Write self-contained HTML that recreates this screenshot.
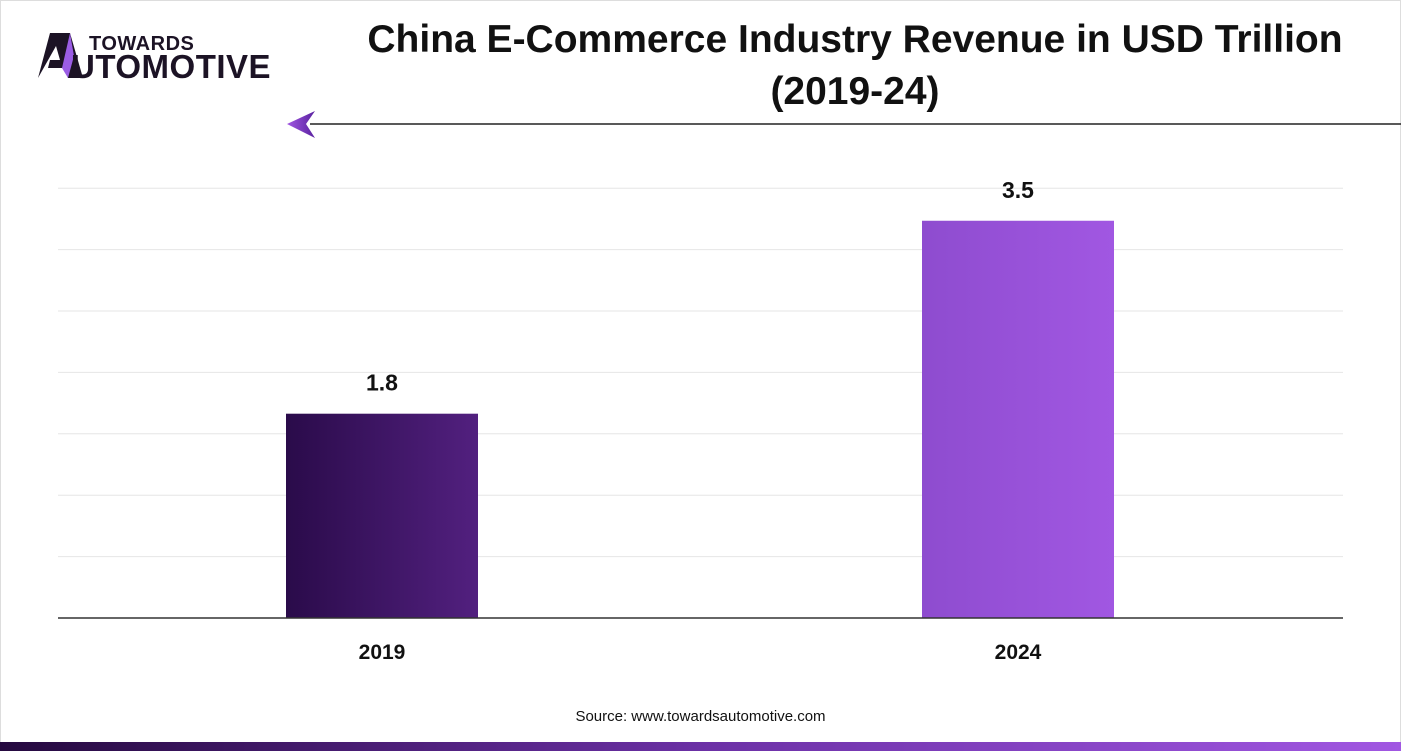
<!DOCTYPE html>
<html><head><meta charset="utf-8"><style>
body{margin:0;width:1401px;height:751px;overflow:hidden;background:#fff;font-family:"Liberation Sans",sans-serif;position:relative}
.abs{position:absolute}
</style></head><body>
<div class="abs" style="left:0;top:0;width:1399px;height:749px;border:1px solid #ddd"></div>
<div class="abs" style="left:38px;top:32px;width:250px;height:50px">
<svg width="50" height="48" style="position:absolute;left:0;top:0">
<polygon points="12,1 32,1 45,46 30,46 26,36 10,36 12,28 22,28 18,14 0,46 0,46" fill="#1c1325"/>
<polygon points="32,1 24,36 30,46 36,24" fill="#9b5de5"/>
</svg>
<div class="abs" style="left:51px;top:1px;font-weight:bold;font-size:20px;color:#1c1325;letter-spacing:0.5px">TOWARDS</div>
<div class="abs" style="left:33px;top:16px;font-weight:bold;font-size:33px;color:#1c1325;letter-spacing:0.5px">UTOMOTIVE</div>
</div>
<div class="abs" style="left:330px;top:14px;width:1050px;text-align:center;font-weight:bold;font-size:39px;line-height:52px;color:#111">China E-Commerce Industry Revenue in USD Trillion<br>(2019-24)</div>
<svg class="abs" style="left:0;top:0" width="1401" height="751" id="chart">
<defs>
<linearGradient id="g1" x1="0" x2="1"><stop offset="0" stop-color="#2a0b4a"/><stop offset="1" stop-color="#52207f"/></linearGradient>
<linearGradient id="g2" x1="0" x2="1"><stop offset="0" stop-color="#8e4ccf"/><stop offset="1" stop-color="#a157e2"/></linearGradient>
<linearGradient id="gb" x1="0" x2="1"><stop offset="0" stop-color="#25093f"/><stop offset="0.5" stop-color="#6b30a5"/><stop offset="1" stop-color="#a157e2"/></linearGradient>
<linearGradient id="ga" x1="0" x2="1"><stop offset="0" stop-color="#a157e2"/><stop offset="1" stop-color="#5a22a0"/></linearGradient>
</defs>
<line x1="310" y1="124" x2="1401" y2="124" stroke="#222" stroke-width="1.5"/>
<polygon points="287,124 315,111 306,124 315,138" fill="url(#ga)"/>
<g id="grid"></g><g id="bars"></g>
<line x1="58" y1="618" x2="1343" y2="618" stroke="#333" stroke-width="1.5"/>
<rect x="0" y="742" width="1401" height="9" fill="url(#gb)"/>
</svg>
<div class="abs" style="left:0;width:1401px;top:708px;text-align:center;font-size:15px;color:#111">Source: www.towardsautomotive.com</div>
<script>
const categories=["2019","2024"];
const values=[1.8,3.5];
const labels=["1.8","3.5"];
const ns="http://www.w3.org/2000/svg";
const base=618, perUnit=113.5, left=58, right=1343, barW=192;
const y=v=>base-v*perUnit;
const x=i=>382+i*636/(categories.length-1);
const grid=document.getElementById('grid'), bars=document.getElementById('bars');
for(let k=1;k<=7;k++){const l=document.createElementNS(ns,'line');const gy=base-k*61.4;
l.setAttribute('x1',left);l.setAttribute('x2',right);l.setAttribute('y1',gy);l.setAttribute('y2',gy);l.setAttribute('stroke','#e6e6e6');


grid.appendChild(l);}
categories.forEach((c,i)=>{
const r=document.createElementNS(ns,'rect');
r.setAttribute('x',x(i)-barW/2);r.setAttribute('y',y(values[i]));r.setAttribute('width',barW);r.setAttribute('height',base-y(values[i]));r.setAttribute('fill',i?'url(#g2)':'url(#g1)');


bars.appendChild(r);
const t=document.createElementNS(ns,'text');
t.setAttribute('x',x(i));t.setAttribute('y',y(values[i])-23);t.setAttribute('text-anchor','middle');t.setAttribute('font-size','23');t.setAttribute('font-weight','bold');t.setAttribute('fill','#111');t.textContent=labels[i];


bars.appendChild(t);
const xl=document.createElementNS(ns,'text');
xl.setAttribute('x',x(i));xl.setAttribute('y',659);xl.setAttribute('text-anchor','middle');xl.setAttribute('font-size','21');xl.setAttribute('font-weight','bold');xl.setAttribute('fill','#111');xl.textContent=c;


bars.appendChild(xl);
});
</script>
</body></html>
